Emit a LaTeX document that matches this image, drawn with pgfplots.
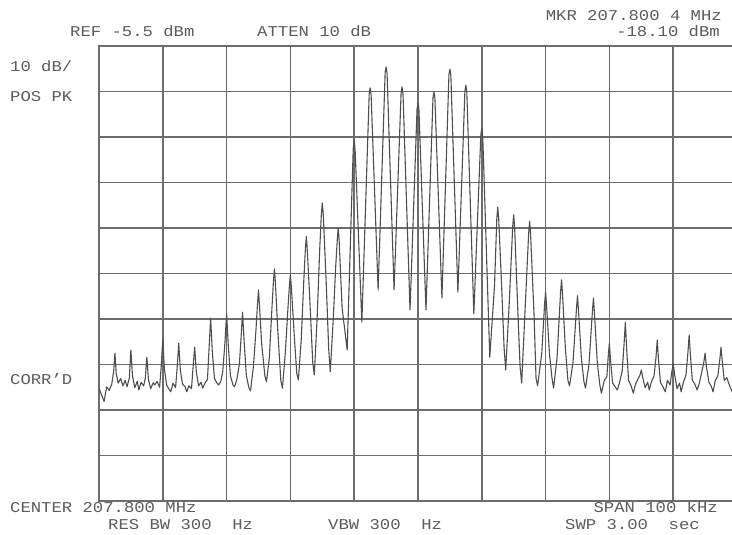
\documentclass[border=0pt]{standalone}
\usepackage{fontspec}
\setmainfont{Liberation Mono}[FakeStretch=1.15]
\usepackage{pgfplots}
\pgfplotsset{compat=1.18}
\definecolor{gridc}{RGB}{108,108,108}
\definecolor{tracec}{RGB}{78,78,78}
\definecolor{textc}{RGB}{92,92,92}

\begin{document}
\begin{tikzpicture}[x=1pt,y=1pt]
\useasboundingbox (0,0) rectangle (732,535);
\begin{axis}[scale only axis, width=638pt, height=455pt,
  at={(99pt,34pt)}, anchor=south west,
  xmin=-50, xmax=50, ymin=-105.5, ymax=-5.5,
  xtick={-50,-40,...,50}, ytick={-105.5,-95.5,...,-5.5},
  xticklabels={}, yticklabels={}, major tick length=0pt,
  grid=major, grid style={gridc, line width=1.6pt},
  axis line style={gridc, line width=1.6pt}]
% comb spectrum, offset from 207.800 MHz (kHz) vs level (dBm)
\addplot[tracec, line width=1.1pt, line join=round, mark=none] coordinates {
 (-50.0,-80.6) (-49.6,-82.2) (-49.2,-83.6) (-48.8,-80.4) (-48.4,-81.2) (-48.0,-79.8) (-47.7,-77.0) (-47.5,-73.0) (-47.3,-77.5) (-47.0,-79.6) (-46.6,-78.6) (-46.25,-80.2)
 (-45.9,-79.0) (-45.6,-80.4) (-45.25,-78.5) (-45.0,-72.3) (-44.75,-78.0) (-44.4,-80.6) (-44.0,-79.2) (-43.75,-81.1)
 (-43.4,-79.4) (-43.0,-80.2) (-42.75,-78.6) (-42.5,-73.9) (-42.25,-78.8) (-41.9,-80.8) (-41.5,-79.5) (-41.25,-80.0)
 (-40.9,-79.2) (-40.5,-80.5) (-40.25,-76.0) (-40.0,-69.9) (-39.75,-76.5) (-39.4,-80.0) (-39.0,-81.0) (-38.75,-81.5)
 (-38.4,-79.6) (-38.0,-80.6) (-37.75,-76.2) (-37.5,-70.8) (-37.25,-76.8) (-36.9,-79.8) (-36.5,-80.4) (-36.25,-81.5)
 (-35.9,-80.2) (-35.5,-80.8) (-35.25,-76.0) (-35.0,-71.7) (-34.75,-77.0) (-34.4,-80.2) (-34.0,-79.4) (-33.75,-80.7)
 (-33.4,-79.6) (-33.0,-78.8) (-32.75,-72.0) (-32.5,-65.3) (-32.25,-72.5) (-31.9,-78.6) (-31.5,-79.6) (-31.25,-80.0)
 (-30.9,-79.2) (-30.6,-77.0) (-30.25,-70.5) (-30.0,-64.2) (-29.75,-71.0) (-29.4,-78.0) (-29.0,-80.0) (-28.75,-80.4)
 (-28.4,-78.8) (-28.0,-75.5) (-27.75,-70.0) (-27.5,-64.0) (-27.25,-70.5) (-26.9,-78.0) (-26.5,-80.6) (-26.25,-81.3)
 (-25.8,-76.0) (-25.4,-68.0) (-25.15,-62.0) (-25.0,-59.1) (-24.85,-62.5) (-24.5,-71.0) (-24.0,-78.0) (-23.75,-79.3)
 (-23.3,-74.0) (-22.85,-62.0) (-22.65,-57.0) (-22.5,-54.5) (-22.35,-57.5) (-22.0,-67.5) (-21.5,-79.0) (-21.25,-80.7)
 (-20.8,-73.0) (-20.4,-63.5) (-20.15,-58.0) (-20.0,-55.8) (-19.85,-58.5) (-19.4,-69.0) (-19.0,-77.5) (-18.75,-78.9)
 (-18.3,-70.0) (-17.9,-57.0) (-17.65,-50.0) (-17.5,-47.3) (-17.35,-50.5) (-17.0,-60.0) (-16.5,-75.0) (-16.25,-77.8)
 (-15.8,-65.0) (-15.4,-50.0) (-15.15,-42.5) (-15.0,-40.0) (-14.85,-42.5) (-14.4,-57.0) (-14.0,-72.0) (-13.75,-77.1)
 (-13.3,-66.0) (-12.9,-54.0) (-12.65,-48.0) (-12.5,-45.5) (-12.35,-48.5) (-11.9,-63.0) (-11.1,-72.3)
 (-10.15,-28.0) (-10.0,-26.2) (-9.85,-28.5) (-8.8,-66.2)
 (-7.65,-16.0) (-7.5,-14.7) (-7.35,-16.2) (-6.25,-59.1)
 (-5.15,-11.3) (-5.0,-10.1) (-4.85,-11.5) (-3.75,-59.1)
 (-2.65,-15.8) (-2.5,-14.5) (-2.35,-16.0) (-1.25,-63.5)
 (-0.15,-19.4) (0.0,-18.1) (0.15,-19.6) (1.25,-63.5)
 (2.35,-16.8) (2.5,-15.6) (2.65,-17.0) (3.75,-60.9)
 (4.85,-11.8) (5.0,-10.6) (5.15,-12.0) (6.25,-59.6)
 (7.35,-15.4) (7.5,-14.1) (7.65,-15.6) (8.75,-64.4)
 (9.85,-25.0) (10.0,-23.5) (10.15,-25.5) (11.25,-73.9)
 (12.0,-58.0) (12.35,-43.5) (12.5,-40.9) (12.65,-43.5) (13.1,-58.0) (13.5,-72.0) (13.75,-76.7)
 (14.3,-62.0) (14.85,-45.0) (15.0,-42.6) (15.15,-45.5) (15.6,-62.0) (16.0,-76.0) (16.25,-79.6)
 (16.7,-66.0) (17.35,-46.5) (17.5,-44.0) (17.65,-47.0) (18.2,-65.0) (18.5,-78.5) (18.75,-80.2)
 (19.4,-73.0) (19.85,-62.0) (20.0,-59.6) (20.15,-62.5) (20.6,-73.0) (21.0,-78.5) (21.25,-80.7)
 (21.8,-74.0) (22.35,-59.5) (22.5,-56.9) (22.65,-60.0) (23.1,-72.0) (23.5,-79.0) (23.75,-80.2)
 (24.3,-75.0) (24.85,-63.0) (25.0,-60.4) (25.15,-63.5) (25.6,-74.0) (26.0,-79.2) (26.25,-80.7)
 (26.8,-75.5) (27.35,-63.5) (27.5,-60.9) (27.65,-64.0) (28.1,-75.0) (28.5,-80.0) (28.75,-81.8)
 (29.2,-79.0) (29.6,-78.2) (29.85,-73.0) (30.0,-70.8) (30.15,-74.0) (30.5,-79.6) (30.9,-80.4) (31.25,-81.1)
 (31.6,-79.4) (32.0,-77.0) (32.3,-71.0) (32.5,-66.2) (32.7,-72.0) (33.0,-79.0) (33.4,-80.2) (33.75,-81.8)
 (34.1,-79.8) (34.5,-78.6) (34.8,-77.8) (35.0,-76.7) (35.2,-78.2) (35.6,-80.6) (36.0,-79.4) (36.25,-81.1)
 (36.6,-79.2) (37.0,-78.0) (37.3,-74.0) (37.5,-70.1) (37.7,-74.5) (38.0,-79.5) (38.4,-80.4) (38.75,-81.5)
 (39.1,-79.0) (39.5,-80.0) (39.8,-77.0) (40.0,-75.2) (40.2,-77.5) (40.6,-80.8) (41.0,-79.6) (41.25,-81.5)
 (41.6,-79.4) (42.0,-77.8) (42.3,-73.0) (42.5,-69.0) (42.7,-73.5) (43.0,-79.0) (43.4,-79.8) (43.75,-81.1)
 (44.1,-79.6) (44.5,-77.0) (44.8,-75.0) (45.0,-73.0) (45.2,-76.0) (45.6,-79.4) (46.0,-80.4) (46.25,-81.5)
 (46.6,-79.0) (47.0,-78.0) (47.3,-74.5) (47.5,-71.7) (47.7,-75.0) (48.0,-79.0) (48.4,-78.4) (48.8,-80.0) (49.4,-82.0) (50.0,-80.5)
};
\end{axis}
\begin{scope}[every node/.style={inner sep=0pt, text=textc, font=\fontsize{15}{18}\selectfont}]
\node[anchor=base east] at (722,514) {MKR 207.800 4 MHz};
\node[anchor=base west] at (70,498) {REF -5.5 dBm};
\node[anchor=base west] at (257,498) {ATTEN 10 dB};
\node[anchor=base east] at (720,498) {-18.10 dBm};
\node[anchor=base west] at (10,463) {10 dB/};
\node[anchor=base west] at (10,433) {POS PK};
\node[anchor=base west] at (10,150) {CORR'D};
\node[anchor=base west] at (10,22) {CENTER 207.800 MHz};
\node[anchor=base east] at (718,22) {SPAN 100 kHz};
\node[anchor=base west] at (108,5) {RES BW 300~~Hz};
\node[anchor=base west] at (328,5) {VBW 300~~Hz};
\node[anchor=base west] at (565,5) {SWP 3.00~~sec};
\end{scope}
\end{tikzpicture}
\end{document}
